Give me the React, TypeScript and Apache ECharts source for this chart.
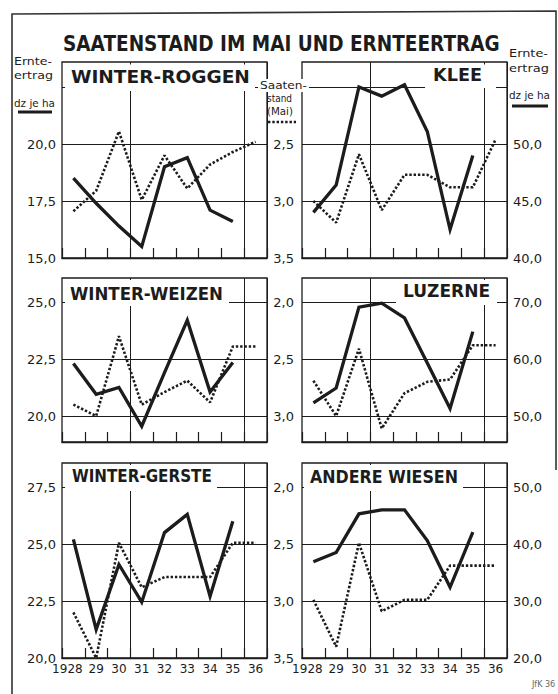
import React, { useEffect, useRef } from 'react';
import * as echarts from 'echarts';

// ---------- data ----------
const years = ['1928', '29', '30', '31', '32', '33', '34', '35', '36'];

// Ernteertrag (dz je ha), 1928-1935
const roggenErtrag = [18.5, 17.4, 16.4, 15.5, 19.0, 19.4, 17.1, 16.6];
const weizenErtrag = [22.3, 20.95, 21.25, 19.55, 21.9, 24.2, 21.05, 22.35];
const gersteErtrag = [25.2, 21.25, 24.1, 22.45, 25.5, 26.3, 22.7, 26.0];
const kleeErtrag = [44.0, 46.4, 55.0, 54.2, 55.2, 51.1, 42.5, 49.0];
const luzerneErtrag = [52.3, 54.9, 69.1, 69.8, 67.2, 59.3, 51.3, 64.8];
const wiesenErtrag = [36.9, 38.5, 45.3, 46.0, 46.0, 40.6, 32.4, 42.1];

// Saatenstand (Mai), 1928-1936
const roggenSaat = [3.09, 2.91, 2.39, 2.99, 2.6, 2.89, 2.68, 2.57, 2.48];
const weizenSaat = [2.9, 3.0, 2.3, 2.9, 2.79, 2.69, 2.88, 2.39, 2.39];
const gersteSaat = [3.1, 3.5, 2.49, 2.88, 2.79, 2.79, 2.79, 2.49, 2.49];
const kleeSaat = [3.0, 3.19, 2.59, 3.08, 2.77, 2.77, 2.88, 2.88, 2.46];
const luzerneSaat = [2.69, 3.0, 2.41, 3.11, 2.8, 2.7, 2.68, 2.38, 2.38];
const wiesenSaat = [2.99, 3.4, 2.49, 3.09, 2.99, 2.99, 2.69, 2.69, 2.69];

// tick / label values
const roggenTicks = [15, 17.5, 20, 22.5];
const roggenLabels = [15, 17.5, 20];
const weizenTicks = [20, 22.5, 25];
const gersteTicks = [20, 22.5, 25, 27.5];
const kleeTicks = [40, 45, 50, 55];
const kleeLabels = [40, 45, 50];
const luzerneTicks = [50, 60, 70];
const wiesenTicks = [20, 30, 40, 50];
const saatTicksByRow = [[2.0, 2.5, 3.0, 3.5], [2.0, 2.5, 3.0], [2.0, 2.5, 3.0, 3.5]];
const saatLabelsByRow = [[2.5, 3.0, 3.5], [2.0, 2.5, 3.0], [2.0, 2.5, 3.0, 3.5]];

// ---------- layout ----------
const COLS = [62, 302];
const PW = 205;
const ROWS = [
  { top: 62, h: 196, saatBottom: 3.5 },
  { top: 278, h: 164, saatBottom: 3.0 + 26 / 114 },
  { top: 463, h: 195, saatBottom: 3.5 },
];
const SAAT_PX = 114;
const FONT = '"DejaVu Sans", sans-serif';
const INK = '#1c1c1c';

const panels = [
  { title: 'WINTER-ROGGEN', col: 0, row: 0, ertrag: roggenErtrag, saat: roggenSaat, eBottom: 15, ePx: 22.8, eTicks: roggenTicks, eLabels: roggenLabels, tx: [71, 250], ty: 77, box: [65, 64.5, 255, 91] },
  { title: 'KLEE', col: 1, row: 0, ertrag: kleeErtrag, saat: kleeSaat, eBottom: 40, ePx: 11.4, eTicks: kleeTicks, eLabels: kleeLabels, tx: [433, 482], ty: 74, box: [425, 64.5, 496, 88] },
  { title: 'WINTER-WEIZEN', col: 0, row: 1, ertrag: weizenErtrag, saat: weizenSaat, eBottom: 20 - 26 / 22.8, ePx: 22.8, eTicks: weizenTicks, eLabels: weizenTicks, tx: [70, 223], ty: 293.5, box: [65, 280, 229, 306] },
  { title: 'LUZERNE', col: 1, row: 1, ertrag: luzerneErtrag, saat: luzerneSaat, eBottom: 50 - 26 / 5.7, ePx: 5.7, eTicks: luzerneTicks, eLabels: luzerneTicks, tx: [403, 490], ty: 291, box: [396, 280, 497, 305] },
  { title: 'WINTER-GERSTE', col: 0, row: 2, ertrag: gersteErtrag, saat: gersteSaat, eBottom: 20, ePx: 22.8, eTicks: gersteTicks, eLabels: gersteTicks, tx: [72, 212], ty: 476.5, box: [65, 465, 217, 491] },
  { title: 'ANDERE WIESEN', col: 1, row: 2, ertrag: wiesenErtrag, saat: wiesenSaat, eBottom: 20, ePx: 5.7, eTicks: wiesenTicks, eLabels: wiesenTicks, tx: [310, 458], ty: 476.5, box: [304, 465, 463, 491] },
];

const fmt = (v: number) => Number(v).toFixed(1).replace('.', ',');

function measure(text: string, font: string): number {
  const c = document.createElement('canvas').getContext('2d');
  if (!c) return 0;
  c.font = font;
  return c.measureText(text).width;
}

function stretchedText(text: string, x0: number, x1: number, yc: number, size: number, bold = true, z = 60) {
  const font = `${bold ? 'bold ' : ''}${size}px "DejaVu Sans"`;
  const w = measure(text, font);
  const sx = w > 0 ? (x1 - x0) / w : 1;
  return {
    type: 'text', x: x0, y: yc, scaleX: sx, z,
    style: { text, font, fill: INK, align: 'left', verticalAlign: 'middle', textAlign: 'left', textVerticalAlign: 'middle' },
  };
}

function buildOption() {
  const grid: any[] = [];
  const xAxis: any[] = [];
  const yAxis: any[] = [];
  const series: any[] = [];
  const graphic: any[] = [];

  panels.forEach((p, i) => {
    const row = ROWS[p.row];
    const left = COLS[p.col];
    grid.push({ left, top: row.top, width: PW, height: row.h, show: true, borderColor: INK, borderWidth: 1.3, backgroundColor: 'transparent' });
    xAxis.push({
      type: 'category', gridIndex: i, data: years, boundaryGap: true,
      axisLine: { show: true, lineStyle: { color: INK, width: 1.3 } },
      axisTick: { show: true, inside: true, length: 10, interval: 0, lineStyle: { color: INK, width: 1.2 } },
      axisLabel: {
        show: p.row === 2, interval: 0, fontSize: 12, color: INK, margin: 5, fontFamily: FONT,
        formatter: (v: string, idx: number) => (idx === 0 ? `{first|${v}}` : v),
        rich: { first: { fontSize: 12, color: INK, fontFamily: FONT, padding: [0, 12, 0, 0] } },
      },
      splitLine: { show: true, interval: (idx: number) => idx === 3 || idx === 8, lineStyle: { color: INK, width: 1 } },
    });
    const eMax = p.eBottom + row.h / p.ePx;
    const sMin = row.saatBottom - row.h / SAAT_PX;
    yAxis.push({
      type: 'value', gridIndex: i, position: p.col === 0 ? 'left' : 'right',
      min: p.eBottom, max: eMax,
      axisLine: { show: false },
      axisTick: { show: false, customValues: p.eTicks },
      axisLabel: { show: true, customValues: p.eLabels, formatter: fmt, margin: 6, fontSize: 13, color: INK, fontFamily: FONT },
      splitLine: { show: true, lineStyle: { color: INK, width: 1 } },
    });
    yAxis.push({
      type: 'value', gridIndex: i, position: p.col === 0 ? 'right' : 'left', inverse: true,
      min: sMin, max: row.saatBottom,
      axisLine: { show: false },
      axisTick: { show: false, customValues: saatTicksByRow[p.row] },
      axisLabel: { show: p.col === 1, customValues: saatLabelsByRow[p.row], formatter: fmt, margin: 8, fontSize: 13, color: INK, fontFamily: FONT },
      splitLine: { show: false },
    });
    series.push({
      type: 'line', xAxisIndex: i, yAxisIndex: 2 * i, data: p.ertrag, symbol: 'none', z: 5, silent: true,
      lineStyle: { color: INK, width: 3.3, join: 'miter' },
    });
    series.push({
      type: 'line', xAxisIndex: i, yAxisIndex: 2 * i + 1, data: p.saat, symbol: 'none', z: 4, silent: true,
      lineStyle: { color: INK, width: 2.6, type: [2.4, 1.9] },
    });
    const [bx0, by0, bx1, by1] = p.box;
    graphic.push({ type: 'rect', z: 50, shape: { x: bx0, y: by0, width: bx1 - bx0, height: by1 - by0 }, style: { fill: '#fff' } });
    graphic.push(stretchedText(p.title, p.tx[0], p.tx[1], p.ty, 18));
  });

  // outer frame
  graphic.push({ type: 'polyline', z: 40, shape: { points: [[12, 694], [12, 14], [556, 11], [556, 470]] }, style: { stroke: '#333', lineWidth: 1.6, fill: 'none' } });
  // main title
  graphic.push(stretchedText('SAATENSTAND IM MAI UND ERNTEERTRAG', 63, 500, 44, 21));

  // left legend
  graphic.push(stretchedText('Ernte-', 14, 52, 61, 11, false));
  graphic.push(stretchedText('ertrag', 14, 53, 75, 11, false));
  graphic.push(stretchedText('dz je ha', 14, 55, 103, 11, false));
  graphic.push({ type: 'line', z: 60, shape: { x1: 18, y1: 112, x2: 52, y2: 112 }, style: { stroke: INK, lineWidth: 3 } });

  // middle legend
  graphic.push({ type: 'rect', z: 55, shape: { x: 258, y: 79, width: 51, height: 13 }, style: { fill: '#fff' } });
  graphic.push(stretchedText('Saaten-', 260, 307, 85, 11, false));
  graphic.push(stretchedText('stand', 267, 292, 98, 10.5, false));
  graphic.push(stretchedText('(Mai)', 267, 293, 110.5, 10.5, false));
  graphic.push({ type: 'line', z: 60, shape: { x1: 268, y1: 122, x2: 296, y2: 122 }, style: { stroke: INK, lineWidth: 2.6, lineDash: [2.4, 1.9] } });

  // right legend
  graphic.push(stretchedText('Ernte-', 509, 548, 53, 11, false));
  graphic.push(stretchedText('ertrag', 509, 549, 68, 11, false));
  graphic.push(stretchedText('dz je ha', 509, 550, 95, 11, false));
  graphic.push({ type: 'line', z: 60, shape: { x1: 512, y1: 106, x2: 548, y2: 106 }, style: { stroke: INK, lineWidth: 3 } });

  // signature
  graphic.push({
    type: 'text', x: 532, y: 684, z: 60,
    style: { text: 'JfK 36', font: `8px "DejaVu Sans"`, fill: '#666', align: 'left', verticalAlign: 'middle', textAlign: 'left', textVerticalAlign: 'middle' },
  });

  return {
    animation: false,
    backgroundColor: '#fff',
    grid, xAxis, yAxis, series, graphic,
  };
}

export default function App() {
  const ref = useRef<HTMLDivElement>(null);
  useEffect(() => {
    if (!ref.current) return;
    const chart = echarts.init(ref.current, null, { renderer: 'svg', width: 558, height: 694 });
    chart.setOption(buildOption() as any);
    return () => chart.dispose();
  }, []);
  return (
    <div
      ref={ref}
      style={{ position: 'fixed', left: 0, top: 0, width: 558, height: 694, background: '#fff' }}
    />
  );
}
